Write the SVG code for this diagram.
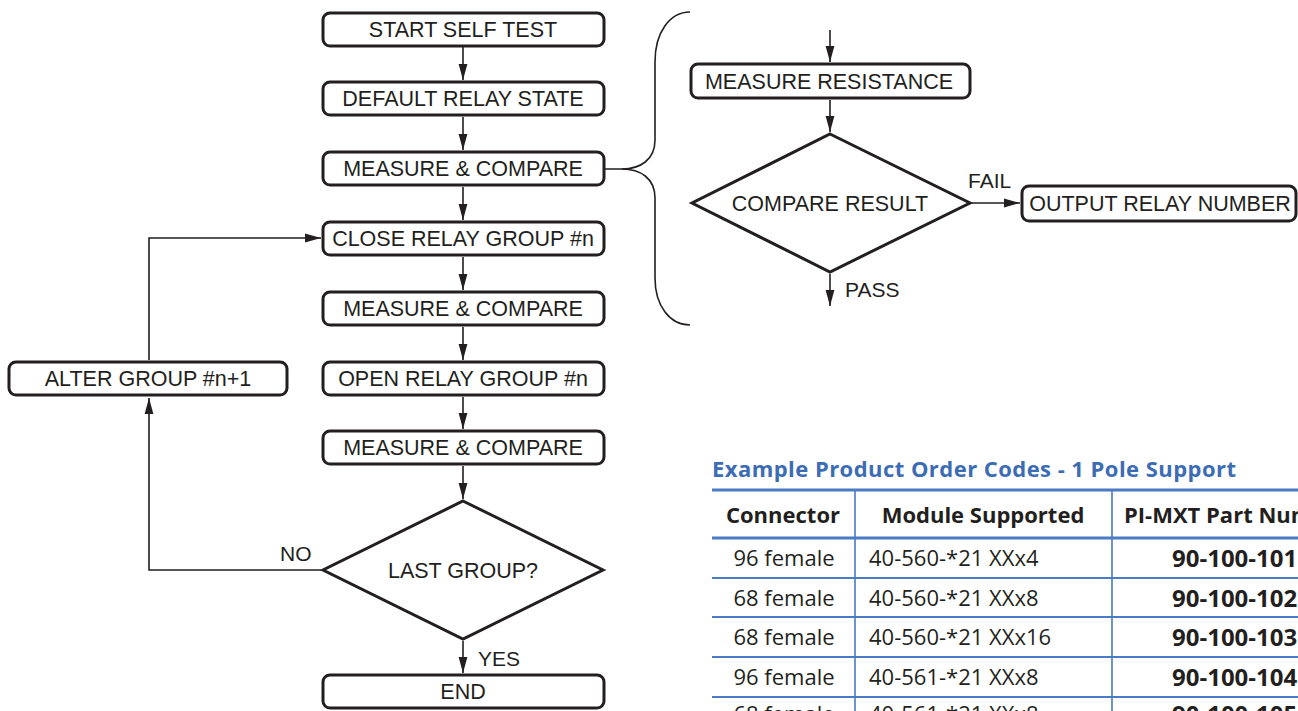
<svg xmlns="http://www.w3.org/2000/svg" width="1298" height="711" viewBox="0 0 1298 711">
<defs>
<marker id="ah" markerUnits="userSpaceOnUse" markerWidth="16" markerHeight="10" refX="16" refY="5" orient="auto">
<path d="M0,0.6 L16,5 L0,9.4 z" fill="#231f20"/>
</marker>
<style>
.box{fill:#fff;stroke:#231f20;stroke-width:3;}
.dia{fill:#fff;stroke:#231f20;stroke-width:3;stroke-linejoin:miter;}
.lbl{font-family:"Liberation Sans",Arial,sans-serif;font-size:21.5px;fill:#231f20;text-anchor:middle;}
.lbs{font-family:"Liberation Sans",Arial,sans-serif;font-size:21px;fill:#231f20;}
.con{fill:none;stroke:#231f20;stroke-width:1.6;}
.arr{fill:none;stroke:#231f20;stroke-width:1.6;marker-end:url(#ah);}
.title{font-family:"Open Sans","Noto Sans",sans-serif;font-size:22px;font-weight:bold;fill:#3c6db4;}
.th{font-family:"Open Sans","Noto Sans",sans-serif;font-size:22px;font-weight:bold;fill:#231f20;}
.td{font-family:"Open Sans","Noto Sans",sans-serif;font-size:22px;fill:#231f20;}
.tb{font-family:"Open Sans","Noto Sans",sans-serif;font-size:24px;font-weight:bold;fill:#231f20;}
.tl{stroke:#4a7bc4;fill:none;}
</style>
</defs>
<rect width="1298" height="711" fill="#fff"/>

<g id="connectors">
<path class="arr" d="M463,47 V80"/>
<path class="arr" d="M463,117 V150"/>
<path class="arr" d="M463,187 V220"/>
<path class="arr" d="M463,257 V290"/>
<path class="arr" d="M463,327 V360"/>
<path class="arr" d="M463,397 V429"/>
<path class="arr" d="M463,466 V499"/>
<path class="arr" d="M463,641 V673"/>
<path class="arr" d="M321,570 H149 V398"/>
<path class="arr" d="M149,360 V238 H321"/>
<path class="con" d="M605,169 H622 C640,169 655,160 655,140 V62 C655,32 670,12 690,12"/>
<path class="con" d="M622,169 C640,169 655,178 655,198 V278 C655,306 670,325 690,325"/>
<path class="arr" d="M830,30 V62"/>
<path class="arr" d="M830,100 V132"/>
<path class="arr" d="M830,274 V306"/>
<path class="arr" d="M972,203 H1020"/>
</g>

<g id="n-start"><rect class="box" x="323" y="13" width="281" height="33" rx="7"/><text class="lbl" x="463" y="37">START SELF TEST</text></g>
<g id="n-default"><rect class="box" x="323" y="82" width="281" height="33" rx="7"/><text class="lbl" x="463" y="106">DEFAULT RELAY STATE</text></g>
<g id="n-measure1"><rect class="box" x="323" y="152" width="281" height="33" rx="7"/><text class="lbl" x="463" y="176">MEASURE &amp; COMPARE</text></g>
<g id="n-close"><rect class="box" x="323" y="222" width="281" height="33" rx="7"/><text class="lbl" x="463" y="246">CLOSE RELAY GROUP #n</text></g>
<g id="n-measure2"><rect class="box" x="323" y="292" width="281" height="33" rx="7"/><text class="lbl" x="463" y="316">MEASURE &amp; COMPARE</text></g>
<g id="n-open"><rect class="box" x="323" y="362" width="281" height="33" rx="7"/><text class="lbl" x="463" y="386">OPEN RELAY GROUP #n</text></g>
<g id="n-measure3"><rect class="box" x="323" y="431" width="281" height="33" rx="7"/><text class="lbl" x="463" y="455">MEASURE &amp; COMPARE</text></g>
<g id="n-last"><polygon class="dia" points="463,501 603,570 463,639 323,570"/><text class="lbl" x="463" y="578">LAST GROUP?</text></g>
<g id="n-end"><rect class="box" x="323" y="675" width="281" height="33" rx="7"/><text class="lbl" x="463" y="699">END</text></g>
<g id="n-alter"><rect class="box" x="9" y="362" width="278" height="33" rx="7"/><text class="lbl" x="148" y="386">ALTER GROUP #n+1</text></g>

<g id="n-measres"><rect class="box" x="691" y="64" width="279" height="34" rx="7"/><text class="lbl" x="829" y="89">MEASURE RESISTANCE</text></g>
<g id="n-compare"><polygon class="dia" points="830,134 970,203 830,272 692,203"/><text class="lbl" x="830" y="211">COMPARE RESULT</text></g>
<g id="n-output"><rect class="box" x="1022" y="186" width="274" height="35" rx="7"/><text class="lbl" x="1160" y="211">OUTPUT RELAY NUMBER</text></g>

<g id="labels">
<text class="lbs" x="280" y="561">NO</text>
<text class="lbs" x="478" y="666">YES</text>
<text class="lbs" x="968" y="188">FAIL</text>
<text class="lbs" x="845" y="297">PASS</text>
</g>

<g id="table">
<text class="title" x="712" y="477" textLength="524" lengthAdjust="spacing">Example Product Order Codes - 1 Pole Support</text>
<path class="tl" stroke-width="3" d="M712,490 H1298"/>
<path class="tl" stroke-width="3" d="M712,538 H1298"/>
<path class="tl" stroke-width="2" d="M712,578 H1298 M712,617 H1298 M712,657 H1298 M712,697 H1298"/>
<path class="tl" stroke-width="1.6" d="M855,490 V711 M1112,490 V711"/>
<text class="th" x="783" y="523" text-anchor="middle">Connector</text>
<text class="th" x="983" y="523" text-anchor="middle">Module Supported</text>
<text class="th" x="1124" y="523">PI-MXT Part Number</text>
<text class="td" x="784" y="566" text-anchor="middle">96 female</text>
<text class="td" x="869" y="566">40-560-*21 XXx4</text>
<text class="tb" x="1172" y="567">90-100-101</text>
<text class="td" x="784" y="606" text-anchor="middle">68 female</text>
<text class="td" x="869" y="606">40-560-*21 XXx8</text>
<text class="tb" x="1172" y="607">90-100-102</text>
<text class="td" x="784" y="645" text-anchor="middle">68 female</text>
<text class="td" x="869" y="645">40-560-*21 XXx16</text>
<text class="tb" x="1172" y="646">90-100-103</text>
<text class="td" x="784" y="685" text-anchor="middle">96 female</text>
<text class="td" x="869" y="685">40-561-*21 XXx8</text>
<text class="tb" x="1172" y="686">90-100-104</text>
<text class="td" x="784" y="722" text-anchor="middle">68 female</text>
<text class="td" x="869" y="722">40-561-*21 XXx8</text>
<text class="tb" x="1172" y="723">90-100-105</text>
</g>
</svg>
